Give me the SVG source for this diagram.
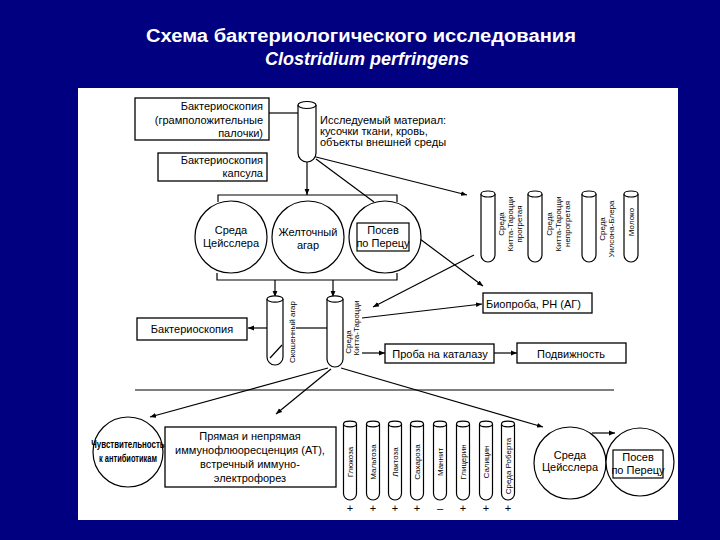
<svg xmlns="http://www.w3.org/2000/svg" width="720" height="540" viewBox="0 0 720 540">
<defs>
<marker id="a" viewBox="0 0 10 10" refX="10" refY="5" markerWidth="6" markerHeight="6" orient="auto" markerUnits="userSpaceOnUse"><path d="M0,1 L10,5 L0,9 z" fill="#000"/></marker>
<style>
.ln{stroke:#000;stroke-width:1.2;fill:none}
.ar{stroke:#000;stroke-width:1.2;fill:none;marker-end:url(#a)}
.box{fill:#fff;stroke:#000;stroke-width:1.3}
.tube{fill:#fff;stroke:#000;stroke-width:1.2}
.t{font-family:"Liberation Sans",Arial,sans-serif;fill:#000;font-size:11px}
.m{text-anchor:middle}
.r{text-anchor:end}
.s{font-size:8px}
.ttl{font-family:"Liberation Sans",Arial,sans-serif;fill:#fff;font-size:18px;font-weight:bold;text-anchor:middle}
</style>
</defs>
<rect width="720" height="540" fill="#000080"/>
<rect x="78" y="88" width="600" height="432" fill="#fff"/>
<text class="ttl" x="361" y="42" textLength="430" lengthAdjust="spacingAndGlyphs">Схема бактериологического исследования</text>
<text class="ttl" x="367" y="65" font-style="italic">Clostridium perfringens</text>

<g id="connectors">
<line class="ln" x1="269" y1="113" x2="298" y2="113"/>
<line class="ar" x1="307" y1="162" x2="307" y2="195"/>
<polyline class="ln" points="218,202 218,195 397,195 397,202"/>
<line class="ln" x1="316" y1="159" x2="374" y2="202"/>
<line class="ar" x1="316" y1="157" x2="467" y2="195"/>
<polyline class="ln" points="217,273 217,280 397,280 397,273"/>
<line class="ar" x1="275" y1="280" x2="275" y2="297"/>
<line class="ar" x1="333" y1="280" x2="333" y2="297"/>
<line class="ar" x1="420" y1="239" x2="483" y2="286"/>
<line class="ar" x1="474" y1="255" x2="373" y2="307"/>
<line class="ar" x1="362" y1="318" x2="482" y2="304"/>
<line class="ln" x1="327" y1="328" x2="296" y2="328"/>
<line class="ar" x1="267" y1="328" x2="248" y2="328"/>
<line class="ar" x1="362" y1="353" x2="385" y2="353"/>
<line class="ar" x1="494" y1="353" x2="517" y2="353"/>
<line class="ln" x1="135" y1="390" x2="614" y2="390"/>
<line class="ar" x1="328" y1="368" x2="150" y2="417"/>
<line class="ar" x1="331" y1="369" x2="276" y2="414"/>
<line class="ar" x1="341" y1="368" x2="543" y2="427"/>
<line class="ar" x1="592" y1="433" x2="615" y2="433"/>
</g>

<g id="box-bakt1">
<rect class="box" x="135" y="98" width="134" height="42"/>
<text class="t r" x="263" y="110" font-size="11.5">Бактериоскопия</text>
<text class="t r" x="263" y="124" font-size="11.5">(грамположительные</text>
<text class="t r" x="263" y="137" font-size="11.5">палочки)</text>
</g>
<g id="box-bakt2">
<rect class="box" x="158" y="153" width="109" height="28"/>
<text class="t r" x="263" y="164" font-size="11.5">Бактериоскопия</text>
<text class="t r" x="263" y="177" font-size="11.5">капсула</text>
</g>
<g id="tube-material">
<path class="tube" d="M298,105 V153 A9,9 0 0 0 316,153 V105"/>
<ellipse class="tube" cx="307" cy="105" rx="9" ry="3.5"/>
<text class="t" x="320" y="124" font-size="10.5">Исследуемый материал:</text>
<text class="t" x="320" y="135" font-size="10.5">кусочки ткани,  кровь,</text>
<text class="t" x="320" y="146" font-size="10.5">объекты внешней среды</text>
</g>

<g id="circle-zeissler">
<circle class="tube" cx="231" cy="237" r="36"/>
<text class="t m" x="231" y="234" font-size="10">Среда</text>
<text class="t m" x="231" y="247" font-size="10">Цейсслера</text>
</g>
<g id="circle-yolk">
<circle class="tube" cx="308" cy="237" r="36"/>
<text class="t m" x="308" y="236" font-size="11.5">Желточный</text>
<text class="t m" x="308" y="249" font-size="11.5">агар</text>
</g>
<g id="circle-perets">
<circle class="tube" cx="385" cy="237" r="36"/>
<rect class="ln" x="357" y="223" width="52" height="28"/>
<text class="t m" x="383" y="234" font-size="10">Посев</text>
<text class="t m" x="383" y="247" font-size="10">по Перецу</text>
</g>

<g id="tube-kt-heated">
<path class="tube" d="M481,194 V255 A7,7 0 0 0 495,255 V194"/>
<ellipse class="tube" cx="488" cy="194" rx="7" ry="3"/>
<g class="t s m" transform="translate(504,224) rotate(-90)"><text x="0" y="0">Среда</text><text x="0" y="9">Китта-Тароцци</text><text x="0" y="18">прогретая</text></g>
</g>
<g id="tube-kt-unheated">
<path class="tube" d="M528,194 V255 A7,7 0 0 0 542,255 V194"/>
<ellipse class="tube" cx="535" cy="194" rx="7" ry="3"/>
<g class="t s m" transform="translate(552,224) rotate(-90)"><text x="0" y="0">Среда</text><text x="0" y="9">Китта-Тароцци</text><text x="0" y="18">непрогретая</text></g>
</g>
<g id="tube-wilson">
<path class="tube" d="M582,194 V255 A7,7 0 0 0 596,255 V194"/>
<ellipse class="tube" cx="589" cy="194" rx="7" ry="3"/>
<g class="t s m" transform="translate(605,229) rotate(-90)"><text x="0" y="0">Среда</text><text x="0" y="9">Уилсона-Блера</text></g>
</g>
<g id="tube-milk">
<path class="tube" d="M624,194 V255 A7,7 0 0 0 638,255 V194"/>
<ellipse class="tube" cx="631" cy="194" rx="7" ry="3"/>
<text class="t s m" transform="translate(634,222) rotate(-90)">Молоко</text>
</g>

<g id="box-bioproba">
<rect class="box" x="483" y="293" width="109" height="20"/>
<text class="t" x="486" y="308" font-size="11.5">Биопроба,  РН (АГ)</text>
</g>

<g id="box-bakt3">
<rect class="box" x="137" y="318" width="110" height="22"/>
<text class="t m" x="192" y="333" font-size="12">Бактериоскопия</text>
</g>
<g id="tube-slant">
<path class="tube" d="M267,299 V357 A8,8 0 0 0 283,357 V299"/>
<ellipse class="tube" cx="275" cy="299" rx="8" ry="3.2"/>
<line class="ln" x1="270" y1="358" x2="282" y2="345"/>
<text class="t s m" transform="translate(295,332) rotate(-90)">Скошенный агар</text>
</g>
<g id="tube-kt-mid">
<path class="tube" d="M327,299 V359 A8,8 0 0 0 343,359 V299"/>
<ellipse class="tube" cx="335" cy="299" rx="8" ry="3.2"/>
<text class="t s m" transform="translate(351,342) rotate(-90)">Среда</text>
<text class="t s m" transform="translate(359,328) rotate(-90)">Китта-Тароцци</text>
</g>

<g id="box-catalase">
<rect class="box" x="385" y="344" width="109" height="19"/>
<text class="t m" x="440" y="358">Проба на каталазу</text>
</g>
<g id="box-motility">
<rect class="box" x="517" y="343" width="109" height="20" stroke-width="2"/>
<text class="t m" x="571" y="358" font-size="12">Подвижность</text>
</g>

<g id="circle-antibiotics">
<circle class="tube" cx="128" cy="452" r="35"/>
<text class="t m" transform="translate(128,448) scale(0.72,1)" font-size="9.5" font-weight="bold">Чувствительность</text>
<text class="t m" transform="translate(128,462) scale(0.68,1)" font-size="9.5" font-weight="bold">к антибиотикам</text>
</g>
<g id="box-immuno">
<rect class="box" x="165" y="427" width="171" height="60"/>
<text class="t m" x="250" y="440" font-size="11.5">Прямая и непрямая</text>
<text class="t m" x="250" y="454" font-size="11.5">иммунофлюоресценция (АТ),</text>
<text class="t m" x="250" y="468" font-size="11.5">встречный иммуно-</text>
<text class="t m" x="250" y="482" font-size="11.5">электрофорез</text>
</g>

<g id="sugar-tubes">
<g id="tube-glucose"><path class="tube" d="M343.5,424 V493.5 A6.5,6.5 0 0 0 356.5,493.5 V424"/><ellipse class="tube" cx="350" cy="424" rx="6.5" ry="2.8"/><text class="t s m" transform="translate(353,462) rotate(-90)">Глюкоза</text><text class="t m" x="350" y="512">+</text></g>
<g id="tube-maltose"><path class="tube" d="M366.5,424 V493.5 A6.5,6.5 0 0 0 379.5,493.5 V424"/><ellipse class="tube" cx="373" cy="424" rx="6.5" ry="2.8"/><text class="t s m" transform="translate(376,462) rotate(-90)">Мальтоза</text><text class="t m" x="373" y="512">+</text></g>
<g id="tube-lactose"><path class="tube" d="M388.5,424 V493.5 A6.5,6.5 0 0 0 401.5,493.5 V424"/><ellipse class="tube" cx="395" cy="424" rx="6.5" ry="2.8"/><text class="t s m" transform="translate(398,462) rotate(-90)">Лактоза</text><text class="t m" x="395" y="512">+</text></g>
<g id="tube-sucrose"><path class="tube" d="M410.5,424 V493.5 A6.5,6.5 0 0 0 423.5,493.5 V424"/><ellipse class="tube" cx="417" cy="424" rx="6.5" ry="2.8"/><text class="t s m" transform="translate(420,462) rotate(-90)">Сахароза</text><text class="t m" x="417" y="512">+</text></g>
<g id="tube-mannit"><path class="tube" d="M433.5,424 V493.5 A6.5,6.5 0 0 0 446.5,493.5 V424"/><ellipse class="tube" cx="440" cy="424" rx="6.5" ry="2.8"/><text class="t s m" transform="translate(443,462) rotate(-90)">Маннит</text><text class="t m" x="440" y="512">–</text></g>
<g id="tube-glycerin"><path class="tube" d="M456.5,424 V493.5 A6.5,6.5 0 0 0 469.5,493.5 V424"/><ellipse class="tube" cx="463" cy="424" rx="6.5" ry="2.8"/><text class="t s m" transform="translate(466,462) rotate(-90)">Глицерин</text><text class="t m" x="463" y="512">+</text></g>
<g id="tube-salicin"><path class="tube" d="M479.5,424 V493.5 A6.5,6.5 0 0 0 492.5,493.5 V424"/><ellipse class="tube" cx="486" cy="424" rx="6.5" ry="2.8"/><text class="t s m" transform="translate(489,462) rotate(-90)">Салицин</text><text class="t m" x="486" y="512">+</text></g>
<g id="tube-robert"><path class="tube" d="M501.5,424 V493.5 A6.5,6.5 0 0 0 514.5,493.5 V424"/><ellipse class="tube" cx="508" cy="424" rx="6.5" ry="2.8"/><text class="t s m" transform="translate(511,466) rotate(-90)">Среда Роберта</text><text class="t m" x="508" y="512">+</text></g>
</g>

<g id="circle-zeissler2">
<circle class="tube" cx="570" cy="463" r="36"/>
<text class="t m" x="570" y="459" font-size="9.5">Среда</text>
<text class="t m" x="570" y="471" font-size="9.5">Цейсслера</text>
</g>
<g id="circle-perets2">
<circle class="tube" cx="640" cy="462" r="34"/>
<rect class="ln" x="613" y="450" width="50" height="28"/>
<text class="t m" x="638" y="461" font-size="9.5">Посев</text>
<text class="t m" x="638" y="474" font-size="9.5">по Перецу</text>
</g>
</svg>
